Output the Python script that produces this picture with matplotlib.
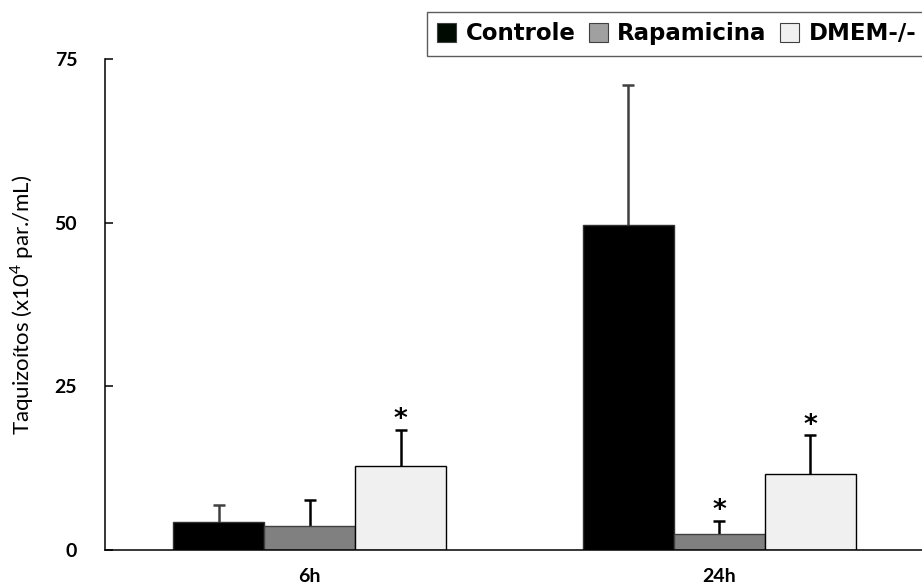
import matplotlib
matplotlib.use("Agg")
import matplotlib.pyplot as plt
import numpy as np

# dados
groups = ["6h", "24h"]
series = ["Controle", "Rapamicina", "DMEM-/-"]
means = {
    "Controle": [4.3, 49.6],
    "Rapamicina": [3.7, 2.5],
    "DMEM-/-": [12.9, 11.6],
}
errors = {
    "Controle": [2.6, 21.4],
    "Rapamicina": [4.0, 2.0],
    "DMEM-/-": [5.5, 5.9],
}
signif = {
    "Controle": [False, False],
    "Rapamicina": [False, True],
    "DMEM-/-": [True, True],
}
yticks = [0, 25, 50, 75]

face = {"Controle": "#000000", "Rapamicina": "#808080", "DMEM-/-": "#f0f0f0"}
edge = {"Controle": "#303030", "Rapamicina": "#404040", "DMEM-/-": "#000000"}
legend_face = {"Controle": "#000a00", "Rapamicina": "#a0a0a0", "DMEM-/-": "#f0f0f0"}
err_col = {"Controle": "#404040", "Rapamicina": "#000000", "DMEM-/-": "#000000"}

plt.rcParams["mathtext.fontset"] = "custom"
plt.rcParams["mathtext.rm"] = "Lato"

W, H = 922, 586
fig = plt.figure(figsize=(W / 100, H / 100), dpi=100)
ax = fig.add_axes([105 / W, 1 - 550 / H, 817 / W, 491 / H])

x = np.arange(len(groups))
width = 0.222
offsets = [-width, 0, width]

for s, off in zip(series, offsets):
    ax.bar(x + off, means[s], width, color=face[s], edgecolor=edge[s], linewidth=1.0, zorder=2)
    eb = ax.errorbar(x + off, means[s], yerr=[np.zeros(len(groups)), errors[s]], fmt="none",
                     ecolor=err_col[s], elinewidth=1.8, capsize=4, capthick=1.8, zorder=1)
    eb[1][0].set_visible(False)  # sem traço inferior
    for i, flag in enumerate(signif[s]):
        if flag:
            ax.annotate("*", (x[i] + off, means[s][i] + errors[s][i]), xytext=(0, 7),
                        textcoords="offset points", ha="center", va="center",
                        fontsize=19, fontfamily="DejaVu Sans", fontweight="bold")

ax.set_xlim(-0.499, 1.494)
ax.set_ylim(0, 75)
ax.set_yticks(yticks)
ax.set_xticks(x)
ax.set_xticklabels(groups)
for sp in ["top", "right"]:
    ax.spines[sp].set_visible(False)
for sp in ["left", "bottom"]:
    ax.spines[sp].set_linewidth(1.1)

ax.tick_params(axis="y", direction="in", length=6, width=1.1, pad=20)
ax.tick_params(axis="x", length=0, pad=13)
for lab in ax.get_yticklabels() + ax.get_xticklabels():
    lab.set_fontfamily("Lato")
    lab.set_fontweight("bold")
    lab.set_fontsize(14)

ax.set_ylabel(r"Taquizoítos (x10$^{\mathregular{4}}$ par./mL)", fontfamily="Lato", fontsize=16)
ax.yaxis.set_label_coords(-0.085, 0.5)

handles = [plt.Rectangle((0, 0), 1, 1, facecolor=legend_face[s], edgecolor="#404040", linewidth=0.8)
           for s in series]
leg = fig.legend(handles, series, loc="upper left", bbox_to_anchor=(427 / W, 1 - 12 / H),
                 ncol=3, frameon=True, fancybox=False, borderaxespad=0, borderpad=0.45,
                 handlelength=0.83, handleheight=0.92, handletextpad=0.4, columnspacing=0.6,
                 prop={"family": "DejaVu Sans", "weight": "bold", "size": 16.5})
leg.get_frame().set_edgecolor("#333333")
leg.get_frame().set_linewidth(1.0)

fig.savefig("out.png", dpi=100)
